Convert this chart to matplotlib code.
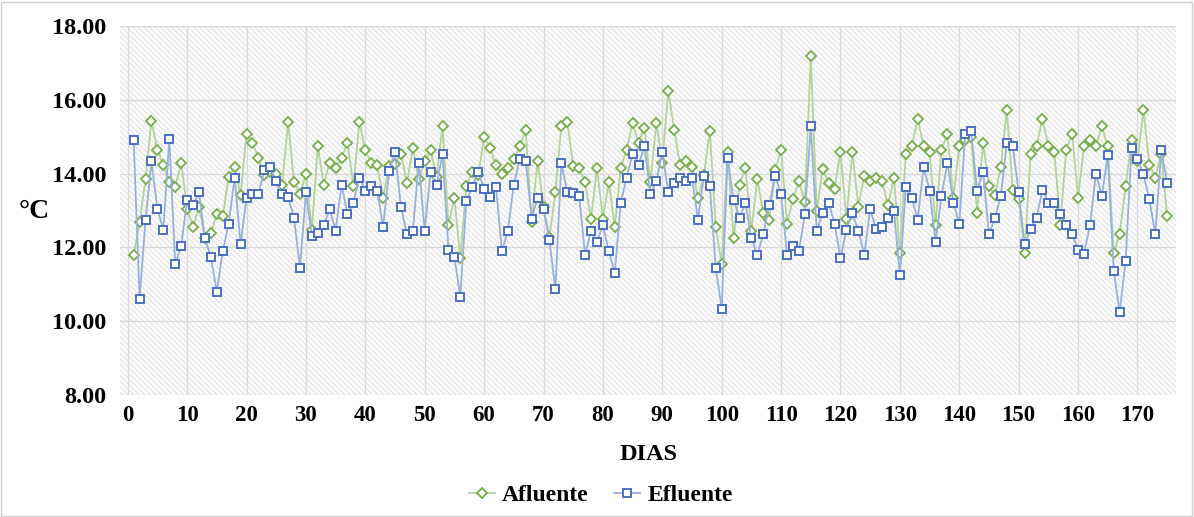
import matplotlib
matplotlib.use("Agg")
import matplotlib.pyplot as plt
from matplotlib.patches import Rectangle
from matplotlib.lines import Line2D

days = list(range(1, 176))

afluente = [
    11.79, 12.69, 13.84, 15.43, 14.63, 14.23, 13.77, 13.64, 14.29, 13.05,
    12.55, 13.10, 12.25, 12.39, 12.90, 12.84, 13.91, 14.18, 13.41, 15.08,
    14.83, 14.43, 13.95, 14.05, 14.00, 13.68, 15.40, 13.77, 13.44, 13.98,
    12.48, 14.74, 13.70, 14.29, 14.14, 14.41, 14.83, 13.66, 15.40, 14.63,
    14.29, 14.23, 13.34, 14.20, 14.25, 14.54, 13.73, 14.70, 13.84, 14.34,
    14.63, 13.91, 15.28, 12.60, 13.34, 11.70, 13.66, 14.05, 13.95, 14.98,
    14.70, 14.23, 13.98, 14.15, 14.38, 14.74, 15.19, 12.69, 14.34, 13.10,
    12.28, 13.49, 15.28, 15.40, 14.20, 14.14, 13.77, 12.78, 14.15, 12.78,
    13.77, 12.55, 14.15, 14.65, 15.36, 14.83, 15.24, 13.77, 15.36, 14.29,
    16.24, 15.19, 14.23, 14.34, 14.18, 13.34, 13.95, 15.16, 12.54, 11.54,
    14.59, 12.24, 13.70, 14.14, 12.45, 13.84, 12.93, 12.75, 14.09, 14.65,
    12.64, 13.30, 13.79, 13.23, 17.18, 12.99, 14.11, 13.73, 13.59, 14.59,
    12.78, 14.59, 13.10, 13.94, 13.79, 13.89, 13.79, 13.14, 13.89, 11.85,
    14.54, 14.74, 15.49, 14.74, 14.59, 12.60, 14.65, 15.08, 13.34, 14.74,
    14.92, 14.99, 12.93, 14.83, 13.66, 13.41, 14.18, 15.73, 13.55, 13.32,
    11.85, 14.54, 14.74, 15.49, 14.74, 14.59, 12.60, 14.65, 15.08, 13.34,
    14.74, 14.90, 14.74, 15.28, 14.74, 11.85, 12.36, 13.66, 14.90, 14.35,
    15.73, 14.24, 13.89, 14.54, 12.84,
]

efluente = [
    14.90, 10.61, 12.74, 14.33, 13.03, 12.48, 14.94, 11.54, 12.04, 13.28,
    13.14, 13.49, 12.24, 11.74, 10.79, 11.90, 12.64, 13.89, 12.08, 13.34,
    13.44, 13.44, 14.09, 14.18, 13.79, 13.44, 13.35, 12.80, 11.44, 13.49,
    12.30, 12.39, 12.60, 13.03, 12.45, 13.70, 12.90, 13.21, 13.89, 13.53,
    13.66, 13.53, 12.55, 14.06, 14.59, 13.10, 12.35, 12.44, 14.29, 12.45,
    14.05, 13.68, 14.54, 11.94, 11.74, 10.66, 13.25, 13.64, 14.05, 13.59,
    13.35, 13.64, 11.90, 12.45, 13.70, 14.39, 14.34, 12.78, 13.34, 13.03,
    12.19, 10.86, 14.29, 13.49, 13.46, 13.39, 11.80, 12.45, 12.15, 12.60,
    11.90, 11.31, 13.21, 13.89, 14.54, 14.24, 14.74, 13.44, 13.79, 14.59,
    13.49, 13.75, 13.89, 13.79, 13.89, 12.75, 13.94, 13.66, 11.43, 10.34,
    14.43, 13.28, 12.80, 13.19, 12.24, 11.80, 12.35, 13.14, 13.94, 13.44,
    11.80, 12.04, 11.90, 12.89, 15.28, 12.45, 12.93, 13.21, 12.64, 11.70,
    12.48, 12.93, 12.45, 11.80, 13.03, 12.49, 12.55, 12.80, 12.99, 11.24,
    13.64, 13.34, 12.75, 14.18, 13.53, 12.15, 13.39, 14.29, 13.21, 12.64,
    15.08, 15.15, 13.53, 14.05, 12.35, 12.80, 13.39, 14.83, 14.74, 13.49,
    12.08, 12.49, 12.80, 13.55, 13.21, 13.21, 12.89, 12.60, 12.35, 11.94,
    11.83, 12.60, 14.00, 13.39, 14.50, 11.35, 10.25, 11.63, 14.70, 14.39,
    13.98, 13.30, 12.35, 14.63, 13.75,
]

x_ticks = list(range(0, 171, 10))
y_ticks = [8, 10, 12, 14, 16, 18]
y_ticklabels = ["8.00", "10.00", "12.00", "14.00", "16.00", "18.00"]
series_names = ["Afluente", "Efluente"]
x_title = "DIAS"
y_title = "°C"

plt.rcParams["font.family"] = ["Liberation Serif", "DejaVu Serif"]
plt.rcParams["hatch.linewidth"] = 0.6
plt.rcParams["hatch.color"] = "#dcdcdc"

fig = plt.figure(figsize=(11.94, 5.17), dpi=100)
fig.patch.set_facecolor("white")
ax = fig.add_axes([0.1005, 0.236, 0.8845, 0.714])
ax.set_facecolor("#fbfbfb")

# hatched background
bg = Rectangle((0, 0), 1, 1, transform=ax.transAxes, facecolor="#fbfbfb",
               edgecolor="#dcdcdc", hatch="\\\\\\\\\\\\", linewidth=0, zorder=0)
ax.add_patch(bg)

green_line = "#b3d39a"
green_mark = "#77ad4a"
blue_line = "#98b0dc"
blue_mark = "#4a70c2"

ax.plot(days, afluente, color=green_line, lw=1.3, marker="D", markersize=4.8,
        markerfacecolor="white", markeredgecolor=green_mark, markeredgewidth=1.3,
        zorder=3, label=series_names[0])
ax.plot(days, efluente, color=blue_line, lw=1.3, marker="s", markersize=6.3,
        markerfacecolor="white", markeredgecolor=blue_mark, markeredgewidth=1.4,
        zorder=4, label=series_names[1])

ax.set_xlim(-1.3, 176.5)
ax.set_ylim(8, 18)
ax.set_xticks(x_ticks)
ax.set_yticks(y_ticks)
ax.set_yticklabels(y_ticklabels)
ax.grid(True, color="#d9d9d9", lw=0.9, zorder=1)
ax.set_axisbelow(True)
for s in ax.spines.values():
    s.set_visible(False)
ax.tick_params(axis="y", length=0, labelsize=17.5, pad=10)
ax.tick_params(axis="x", length=0, labelsize=16.5, pad=7)
for lab in ax.get_xticklabels() + ax.get_yticklabels():
    lab.set_fontweight("bold")

ax.set_xlabel(x_title, fontsize=17.5, fontweight="bold", labelpad=13)
fig.text(0.029, 0.59, y_title, fontsize=20, fontweight="bold",
         ha="center", va="center")

handles = [
    Line2D([], [], color=green_line, lw=1.3, marker="D", markersize=4.8,
           markerfacecolor="white", markeredgecolor=green_mark, markeredgewidth=1.3),
    Line2D([], [], color=blue_line, lw=1.3, marker="s", markersize=6.3,
           markerfacecolor="white", markeredgecolor=blue_mark, markeredgewidth=1.4),
]
leg = fig.legend(handles, series_names, loc="center", bbox_to_anchor=(0.503, 0.042),
                 ncol=2, frameon=False, prop={"weight": "bold", "size": 17},
                 handlelength=1.1, columnspacing=1.1, handletextpad=0.3)

fig.patches.append(Rectangle((0.001, 0.002), 0.997, 0.995, transform=fig.transFigure,
                             fill=False, edgecolor="#d0d0d0", lw=1))

fig.savefig("out.png", dpi=100)
